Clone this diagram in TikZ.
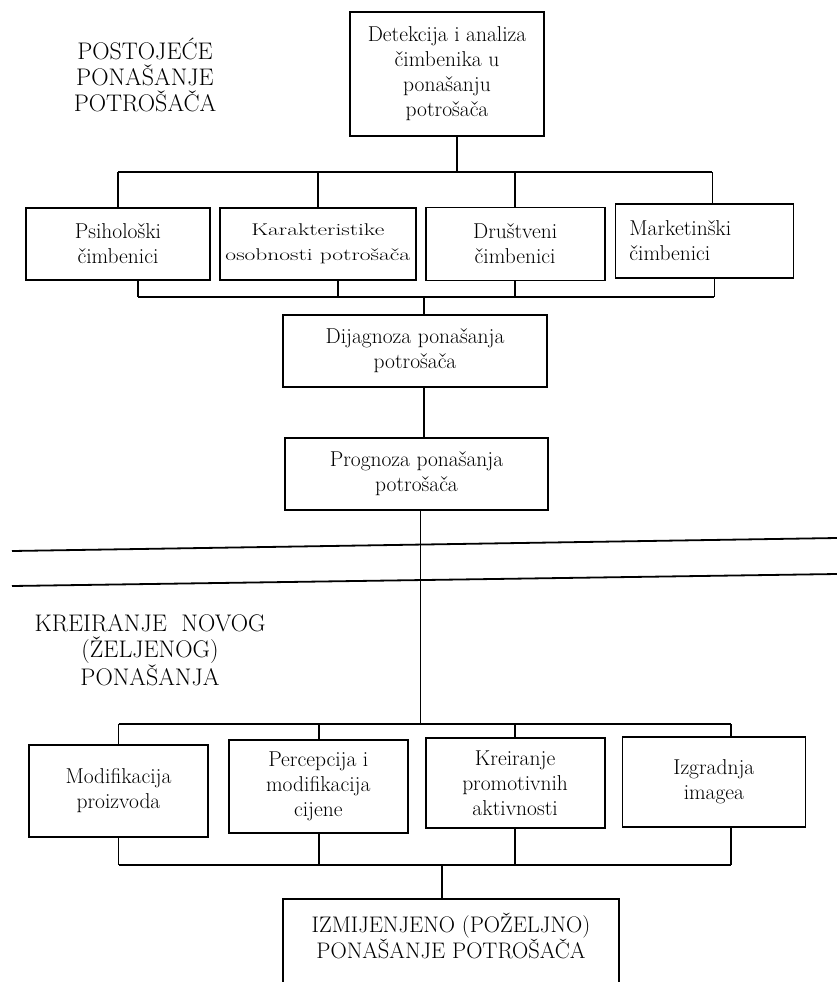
\documentclass[tikz,border=0pt]{standalone}
\usepackage{fontspec}
\usetikzlibrary{positioning}

\begin{document}
\begin{tikzpicture}[
  x=1pt, y=1pt,
  every node/.style={font=\fontsize{21.5}{25}\selectfont},
  box/.style={draw, rectangle, line width=1.8pt, align=center, inner sep=2pt},
  heading/.style={align=center, font=\fontsize{24}{26}\selectfont},
  conn/.style={line width=1.8pt}
]

\useasboundingbox (0,0) rectangle (837,-982);
\clip (0,0) rectangle (837,-982);

% Headings
\node[heading] (postojece) at (145,-75) {POSTOJEĆE\\ PONAŠANJE\\ POTROŠAČA};
\node[heading] (kreiranje) at (150,-650) {KREIRANJE\ \ NOVOG\\ (ŽELJENOG)\\ PONAŠANJA};

% Nodes
\node[box, minimum width=194pt, minimum height=124pt] (det) at (447,-74) {Detekcija i analiza\\ čimbenika u\\ ponašanju\\ potrošača};

\node[box, minimum width=184pt, minimum height=72pt] (psi) at (118,-244) {Psihološki\\ čimbenici};
\node[box, minimum width=196pt, minimum height=72pt, right=8pt of psi, font=\fontsize{17}{25}\selectfont] (kar) {\scalebox{1.38}[1]{Karakteristike}\\ \scalebox{1.38}[1]{osobnosti potrošača}};
\node[box, minimum width=179pt, minimum height=73pt, right=8pt of kar] (dru) {Društveni\\ čimbenici};
\node[box, minimum width=178pt, minimum height=74pt, right=9pt of dru, yshift=3pt, align=left, text width=150pt] (mar) {Marketinški\\ čimbenici};

\node[box, minimum width=264pt, minimum height=72pt] (dij) at (415,-351) {Dijagnoza ponašanja\\ potrošača};
\node[box, minimum width=263pt, minimum height=72pt] (prog) at (416.5,-474) {Prognoza ponašanja\\ potrošača};

\node[box, minimum width=179pt, minimum height=92pt] (mod) at (118.5,-791) {Modifikacija\\ proizvoda};
\node[box, minimum width=179pt, minimum height=93pt, right=19pt of mod, yshift=4.5pt] (per) {Percepcija i\\ modifikacija\\ cijene};
\node[box, minimum width=179pt, minimum height=90pt, right=16pt of per, yshift=3.5pt] (kre) {Kreiranje\\ promotivnih\\ aktivnosti};
\node[box, minimum width=183pt, minimum height=90pt, right=16pt of kre, yshift=1pt] (izg) {Izgradnja\\ imagea};

\node[box, minimum width=336pt, anchor=north, inner ysep=14pt, font=\fontsize{22.5}{23}\selectfont] (fin) at (451,-898) {IZMIJENJENO (POŽELJNO)\\ PONAŠANJE POTROŠAČA\\[60pt]\mbox{}};

% Bars
\coordinate (barA) at (0,-172);
\coordinate (barB) at (0,-297);
\coordinate (barC) at (0,-724);
\coordinate (barD) at (0,-865);

% Upper tree
\path ([xshift=10pt]det.south) coordinate (d0);
\draw[conn] (d0) -- (d0 |- barA);
\foreach \n/\s in {psi/0, kar/0, dru/0, mar/8} {
  \path ([xshift=\s pt]\n.north) coordinate (u\n);
  \draw[conn] (u\n) -- (u\n |- barA);
}
\draw[conn] (upsi |- barA) -- (umar |- barA);

\foreach \n/\s in {psi/20, kar/20, dru/0, mar/10} {
  \path ([xshift=\s pt]\n.south) coordinate (l\n);
  \draw[conn] (l\n) -- (l\n |- barB);
}
\draw[conn] (lpsi |- barB) -- (lmar |- barB);
\path ([xshift=9pt]dij.north) coordinate (d1);
\draw[conn] (d1) -- (d1 |- barB);

\path ([xshift=9pt]dij.south) coordinate (d2);
\draw[conn] (d2) -- (d2 |- prog.north);
\path ([xshift=4pt]prog.south) coordinate (d3);
\draw[conn] (d3) -- (d3 |- barC);

% Dividing lines
\draw[conn] (12,-551) -- (837,-538);
\draw[conn] (12,-586) -- (837,-574);

% Lower tree
\foreach \n/\s in {mod/0, per/1, kre/0, izg/17} {
  \path ([xshift=\s pt]\n.north) coordinate (t\n);
  \draw[conn] (t\n) -- (t\n |- barC);
  \path ([xshift=\s pt]\n.south) coordinate (b\n);
  \draw[conn] (b\n) -- (b\n |- barD);
}
\draw[conn] (tmod |- barC) -- (tizg |- barC);
\draw[conn] (bmod |- barD) -- (bizg |- barD);
\path ([xshift=-9pt]fin.north) coordinate (d4);
\draw[conn] (d4) -- (d4 |- barD);

\end{tikzpicture}
\end{document}
